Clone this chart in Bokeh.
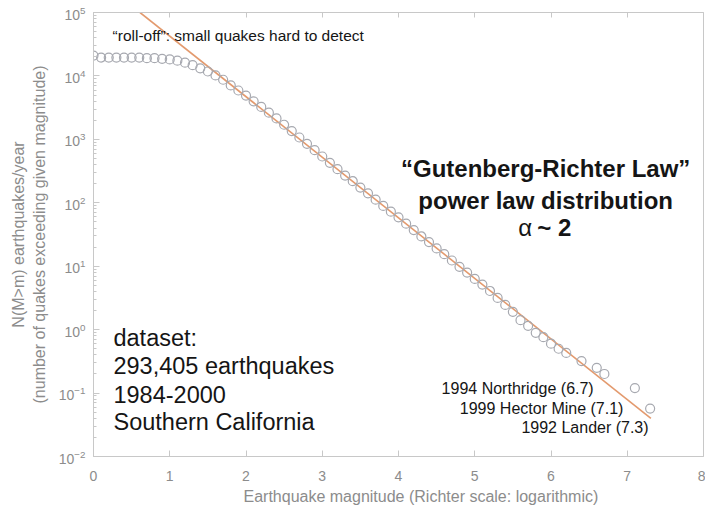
from bokeh.plotting import figure
from bokeh.models import Range1d, FixedTicker, LinearAxis, Label, Title, CustomJSTickFormatter
from bokeh.embed import file_html
from bokeh.resources import INLINE

# Cumulative rate N(M>m) per year vs magnitude
magnitude = [0.0, 0.1, 0.2, 0.3, 0.4, 0.5, 0.6, 0.7, 0.8, 0.9,
             1.0, 1.1, 1.2, 1.3, 1.4, 1.5, 1.6, 1.7, 1.8, 1.9,
             2.0, 2.1, 2.2, 2.3, 2.4, 2.5, 2.6, 2.7, 2.8, 2.9,
             3.0, 3.1, 3.2, 3.3, 3.4, 3.5, 3.6, 3.7, 3.8, 3.9,
             4.0, 4.1, 4.2, 4.3, 4.4, 4.5, 4.6, 4.7, 4.8, 4.9,
             5.0, 5.1, 5.2, 5.3, 5.4, 5.5, 5.6, 5.7, 5.8, 5.9,
             6.0, 6.1, 6.2, 6.4, 6.6, 6.7, 7.1, 7.3]
rate = [20900, 19500, 19500, 19500, 19500, 19500, 19500, 19050, 19050, 18600,
        18200, 17400, 16200, 14800, 13200, 11750, 10200, 8710, 7080, 5890,
        4900, 3980, 3240, 2630, 2140, 1700, 1350, 1070, 851, 676,
        537, 427, 339, 269, 219, 174, 141, 112, 89.1, 72.4,
        58.9, 46.8, 37.2, 29.5, 24.0, 19.1, 15.5, 12.3, 9.77, 7.94,
        6.31, 5.13, 4.07, 3.16, 2.45, 1.91, 1.41, 1.15, 0.89, 0.76,
        0.60, 0.50, 0.43, 0.32, 0.25, 0.20, 0.12, 0.057]

# Power-law fit line end points
fit_magnitude = [0.61, 7.31]
fit_rate = [1.0e5, 0.04]

x_ticks = [0, 1, 2, 3, 4, 5, 6, 7, 8]
y_ticks = [1e-2, 1e-1, 1e0, 1e1, 1e2, 1e3, 1e4, 1e5]
y_minor = [k * t for t in y_ticks[:-1] for k in range(2, 10)]

FONT = "Liberation Sans"
GRAY = "#8c8c8c"
AXIS = "#c8c8c8"
INK = "#151515"

p = figure(width=705, height=515, x_range=Range1d(0, 8), y_range=Range1d(0.01, 1e5),
           y_axis_type="log", output_backend="svg", toolbar_location=None,
           min_border_left=93, min_border_right=2, min_border_top=12, min_border_bottom=59,
           background_fill_color="white", border_fill_color="white")
p.outline_line_color = AXIS
p.xgrid.visible = False
p.ygrid.visible = False

p.line(fit_magnitude, fit_rate, line_color="#e39a6e", line_width=1.6)
p.scatter(magnitude, rate, marker="circle", size=9, fill_color=None,
          line_color="#a7a9b0", line_width=1.2)

# axes
xa = p.xaxis[0]
xa.ticker = FixedTicker(ticks=x_ticks, minor_ticks=[])
ya = p.yaxis[0]
ya.ticker = FixedTicker(ticks=y_ticks, minor_ticks=y_minor)
for ax in (xa, ya):
    ax.axis_line_color = AXIS
    ax.major_tick_line_color = AXIS
    ax.minor_tick_line_color = AXIS
    ax.major_tick_in = 6
    ax.major_tick_out = 0
    ax.minor_tick_in = 3
    ax.minor_tick_out = 0
    ax.major_label_text_color = GRAY
    ax.major_label_text_font = FONT
    ax.major_label_text_font_size = "14px"
    ax.axis_label_text_color = GRAY
    ax.axis_label_text_font = FONT
    ax.axis_label_text_font_style = "normal"
xa.major_label_standoff = 14
ya.major_label_standoff = 8
ya.axis_label = "N(M>m) earthquakes/year\n(number of quakes exceeding given magnitude)"
ya.axis_label_text_font_size = "16px"
ya.axis_label_standoff = 8

top = LinearAxis(ticker=FixedTicker(ticks=x_ticks, minor_ticks=[]),
                 formatter=CustomJSTickFormatter(code="return ''"),
                 major_label_standoff=0,
                 axis_line_color=AXIS, major_tick_line_color=AXIS,
                 major_tick_in=5, major_tick_out=0)
p.add_layout(top, "above")

# x-axis title, slightly right of centre as in the original
p.add_layout(Title(text="Earthquake magnitude (Richter scale: logarithmic)",
                   align="left", offset=150, standoff=4,
                   text_font=FONT, text_font_size="16px", text_color=GRAY,
                   text_font_style="normal"), "below")

# annotations
def lab(x, y, text, size, align="left", bold=False):
    p.add_layout(Label(x=x, y=y, text=text, text_font=FONT, text_font_size=size,
                       text_align=align, text_baseline="middle", text_color=INK,
                       text_font_style="bold" if bold else "normal"))

lab(0.25, 43400, "\u201croll-off\u201d: small quakes hard to detect", "15.5px")
lab(5.93, 347, "\u201cGutenberg-Richter Law\u201d", "24px", "center", True)
lab(5.93, 109, "power law distribution", "24px", "center", True)
lab(5.57, 40.7, "\u03b1", "24px", "left", False)
lab(5.82, 40.7, "~ 2", "24px", "left", True)
lab(0.262, 0.726, "dataset:", "23.5px")
lab(0.262, 0.272, "293,405 earthquakes", "23.5px")
lab(0.262, 0.095, "1984-2000", "23.5px")
lab(0.262, 0.0344, "Southern California", "23.5px")
lab(6.56, 0.118, "1994 Northridge (6.7)", "16px", "right")
lab(6.95, 0.0571, "1999 Hector Mine (7.1)", "16px", "right")
lab(7.28, 0.0286, "1992 Lander (7.3)", "16px", "right")

open("out.html", "w").write(file_html(p, INLINE))
